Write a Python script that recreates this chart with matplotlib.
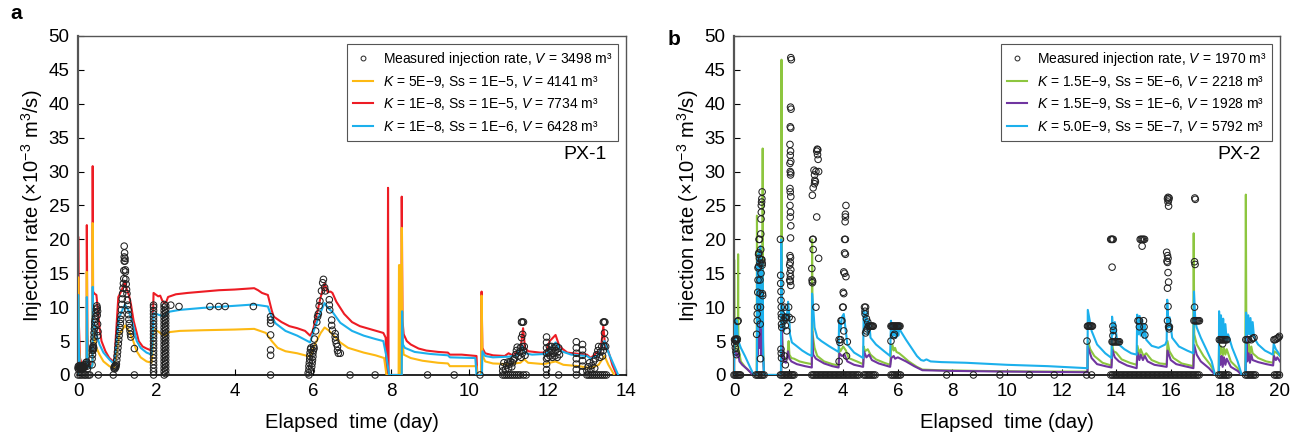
import numpy as np
import matplotlib
matplotlib.use("Agg")
import matplotlib.pyplot as plt
from matplotlib.lines import Line2D

plt.rcParams['font.family'] = ['Liberation Sans', 'DejaVu Sans']
plt.rcParams['mathtext.fontset'] = 'custom'
plt.rcParams['mathtext.rm'] = 'Liberation Sans'
plt.rcParams['mathtext.it'] = 'Liberation Sans:italic'

# ---------------- PX-1 (panel a) ----------------
px1_red = [(0, 0), (0.005, 20.4), (0.02, 8), (0.05, 2.5), (0.1, 1.5), (0.2, 1.5), (0.22, 2), (0.225, 22.1),
           (0.24, 6), (0.27, 2), (0.33, 1.5), (0.37, 2), (0.375, 30.8), (0.385, 12.3), (0.42, 12), (0.47, 11.8),
           (0.5, 10), (0.55, 7), (0.6, 5), (0.7, 3.5), (0.8, 2.5), (0.9, 2.0), (0.93, 2.2), (0.97, 6), (1.03, 11.5),
           (1.1, 12.3), (1.15, 13), (1.2, 13.8), (1.25, 12.5), (1.3, 11.8), (1.35, 10.5), (1.42, 8), (1.5, 6.2),
           (1.55, 5), (1.65, 4.2), (1.75, 3.9), (1.88, 3.6), (1.9, 5), (1.93, 12.1), (2.0, 11.8), (2.05, 11.6),
           (2.1, 11.7), (2.15, 11), (2.2, 10.6), (2.25, 10.7), (2.3, 11.5), (2.5, 11.9), (2.8, 12.1), (3.2, 12.3),
           (3.6, 12.5), (4.0, 12.6), (4.5, 12.8), (4.6, 12.5), (4.7, 12.1), (4.85, 11.8), (4.95, 9.5), (5.0, 8.6),
           (5.2, 7.8), (5.4, 7.2), (5.6, 6.9), (5.8, 6.5), (5.93, 5.8), (6.0, 6.5), (6.1, 9), (6.2, 11.5),
           (6.3, 13.5), (6.38, 12.2), (6.45, 12.3), (6.5, 12.1), (6.6, 10.8), (6.8, 9), (7.0, 7.8), (7.2, 7.2),
           (7.5, 6.7), (7.8, 6.2), (7.86, 5.5), (7.88, 0), (7.91, 0), (7.92, 27.6), (7.935, 0), (8.26, 0),
           (8.27, 26.3), (8.29, 8), (8.32, 6), (8.4, 5), (8.5, 4.5), (8.7, 3.9), (8.9, 3.6), (9.2, 3.4),
           (9.45, 3.3), (9.5, 3.0), (9.8, 3.0), (10.18, 2.8), (10.2, 0), (10.3, 0), (10.31, 12.3), (10.33, 4),
           (10.4, 3.2), (10.6, 2.9), (10.9, 2.8), (11.0, 3.2), (11.1, 2.9), (11.2, 3.3), (11.3, 3.6), (11.37, 6.9),
           (11.42, 4), (11.5, 3.5), (11.8, 3.3), (11.95, 3.3), (12.05, 5), (12.2, 5.9), (12.3, 4.2), (12.5, 3.3),
           (12.8, 3.1), (13.0, 3.0), (13.1, 2.5), (13.25, 3.3), (13.35, 3.5), (13.42, 7.2), (13.47, 4),
           (13.55, 3.5), (13.65, 1.5), (13.76, 0)]

px1_yellow = [(0, 0), (0.005, 14.4), (0.02, 5), (0.05, 1.5), (0.1, 1), (0.2, 1), (0.22, 1.5), (0.225, 15.2),
              (0.24, 4), (0.27, 1.2), (0.33, 1), (0.37, 1.5), (0.375, 22.4), (0.385, 6.5), (0.42, 5.5), (0.47, 4),
              (0.55, 3), (0.65, 2), (0.8, 1.3), (0.92, 1.0), (0.97, 2.5), (1.05, 6), (1.15, 6.8), (1.2, 7.3),
              (1.3, 6.5), (1.4, 5.2), (1.5, 3.5), (1.6, 2.6), (1.75, 2.0), (1.88, 1.8), (1.9, 3), (1.93, 6.7),
              (2.05, 6.4), (2.15, 6), (2.22, 5.8), (2.3, 6.3), (2.6, 6.5), (3.2, 6.6), (4.0, 6.7), (4.5, 6.8),
              (4.8, 6.2), (4.95, 5), (5.1, 4), (5.3, 3.5), (5.6, 3.2), (5.93, 2.7), (6.05, 4.5), (6.2, 6.2),
              (6.3, 7.0), (6.4, 6.6), (6.5, 6.0), (6.7, 4.8), (6.9, 4.0), (7.3, 3.3), (7.6, 2.9), (7.82, 2.5),
              (7.88, 0), (8.19, 0), (8.2, 16.2), (8.23, 16.2), (8.24, 0), (8.265, 0), (8.27, 21.7), (8.29, 5),
              (8.32, 3), (8.5, 2.5), (8.8, 2.1), (9.2, 1.8), (9.45, 1.7), (9.5, 1.3), (10.18, 1.3), (10.2, 0),
              (10.3, 0), (10.31, 11.7), (10.33, 3), (10.4, 2), (10.6, 1.7), (11.0, 1.6), (11.3, 1.8), (11.4, 2.3),
              (11.5, 1.8), (11.9, 1.6), (12.2, 2.0), (12.4, 1.5), (12.8, 1.3), (13.1, 1.0), (13.3, 1.5),
              (13.45, 2.8), (13.55, 1.5), (13.7, 0)]

px1_blue = [(0, 0), (0.005, 11.8), (0.02, 4), (0.05, 1.2), (0.1, 1), (0.2, 1), (0.22, 1.5), (0.225, 11.5),
            (0.24, 3), (0.27, 1.2), (0.33, 1), (0.37, 1.5), (0.375, 13), (0.385, 8), (0.42, 7.5), (0.47, 6),
            (0.55, 4.5), (0.65, 3.3), (0.8, 2.3), (0.92, 1.6), (0.97, 4), (1.05, 8.5), (1.15, 9.8), (1.2, 10.4),
            (1.3, 9.4), (1.4, 7.5), (1.5, 5), (1.6, 4), (1.75, 3.3), (1.88, 3.0), (1.9, 4.5), (1.93, 9.1),
            (2.05, 8.9), (2.15, 8.7), (2.22, 8.7), (2.3, 9.3), (2.6, 9.6), (3.2, 9.9), (4.0, 10.2), (4.5, 10.4),
            (4.85, 10.1), (4.95, 8.5), (5.05, 7.6), (5.3, 6.5), (5.6, 5.8), (5.93, 4.8), (6.05, 7), (6.2, 9.3),
            (6.3, 10.6), (6.4, 9.8), (6.5, 9.3), (6.7, 7.7), (7.0, 6.5), (7.3, 5.8), (7.6, 5.3), (7.8, 5.0),
            (7.87, 3), (7.95, 0), (8.27, 0), (8.28, 9.4), (8.3, 4.5), (8.35, 4), (8.6, 3.4), (9.0, 3.1),
            (9.45, 2.9), (9.5, 2.6), (10.15, 2.5), (10.18, 0), (10.32, 0), (10.33, 3.5), (10.4, 2.8), (10.6, 2.6),
            (11.0, 2.7), (11.2, 2.9), (11.35, 4.3), (11.42, 3.2), (11.6, 3.0), (11.95, 3.1), (12.2, 4.8),
            (12.35, 3.5), (12.6, 3.0), (13.0, 2.8), (13.1, 2.4), (13.3, 3.0), (13.45, 5.0), (13.55, 3.3),
            (13.65, 2), (13.8, 0)]

px1_meas = [
    # start
    (0.0, 1.0), (0.01, 1.3), (0.02, 0.8), (0.03, 1.2), (0.04, 1.0), (0.05, 1.4), (0.06, 1.1), (0.07, 0.9),
    (0.08, 1.2), (0.09, 1.0), (0.1, 1.3), (0.11, 1.1), (0.12, 0.9), (0.13, 1.2), (0.14, 1.0), (0.15, 1.4),
    (0.17, 1.2), (0.19, 1.5), (0.2, 1.8), (0.21, 1.6), (0.22, 1.9), (0.23, 1.3), (0.24, 0.9), (0.0, 0),
    (0.05, 0), (0.1, 0), (0.16, 0), (0.2, 0), (0.26, 0), (0.3, 0),
    # 0.4
    (0.36, 1.5), (0.36, 2.4), (0.37, 3.0), (0.37, 3.6), (0.38, 3.9), (0.38, 4.1), (0.39, 3.7), (0.39, 4.3),
    (0.4, 4.0), (0.4, 5.0), (0.41, 5.6), (0.41, 6.2), (0.42, 6.8), (0.43, 7.3), (0.43, 7.8), (0.44, 8.2),
    (0.45, 8.6), (0.46, 9.2), (0.47, 9.7), (0.48, 10.2), (0.49, 9.9), (0.5, 9.4), (0.49, 8.8), (0.5, 7.5),
    (0.51, 6.4), (0.5, 5.8), (0.52, 0),
    # 1.2 peak
    (0.92, 1.0), (0.93, 1.2), (0.94, 0.9), (0.95, 1.4), (0.96, 1.1), (0.97, 1.3), (0.98, 1.6), (0.99, 2.2),
    (1.0, 2.8), (1.01, 3.4), (1.02, 4.0), (1.03, 4.6), (1.04, 5.2), (1.05, 5.8), (1.06, 6.4), (1.07, 7.0),
    (1.08, 7.6), (1.09, 8.2), (1.1, 8.8), (1.11, 9.6), (1.12, 10.4), (1.13, 11.2), (1.14, 12.0),
    (1.15, 12.8), (1.16, 13.5), (1.17, 14.2), (1.17, 15.4), (1.18, 16.8), (1.18, 17.4), (1.19, 18.0),
    (1.18, 19.0), (1.2, 17.2), (1.2, 16.8), (1.21, 15.5), (1.21, 15.2), (1.22, 14.1), (1.23, 13.4),
    (1.24, 12.6), (1.25, 12.0), (1.26, 11.0), (1.27, 10.3), (1.28, 9.6), (1.29, 8.9), (1.3, 8.2),
    (1.31, 7.6), (1.32, 7.0), (1.33, 6.5), (1.34, 6.0), (1.35, 5.6), (1.44, 3.9), (0.9, 0), (1.44, 0),
    # 1.93 column
    (1.93, 0), (1.93, 0.5), (1.93, 1.0), (1.93, 1.5), (1.93, 2.0), (1.93, 2.5), (1.93, 3.0), (1.93, 3.5),
    (1.93, 4.0), (1.93, 4.5), (1.93, 5.0), (1.93, 5.5), (1.93, 6.0), (1.93, 6.5), (1.93, 7.0), (1.93, 7.5),
    (1.93, 8.0), (1.93, 8.5), (1.93, 9.0), (1.93, 9.5), (1.93, 10.0), (1.93, 10.3),
    # 2.2 column
    (2.2, 0), (2.2, 0.5), (2.2, 1.0), (2.2, 1.5), (2.2, 2.0), (2.2, 2.5), (2.2, 3.0), (2.2, 3.5),
    (2.2, 4.0), (2.2, 4.5), (2.2, 5.0), (2.2, 5.5), (2.2, 6.0), (2.2, 6.5), (2.2, 7.0), (2.2, 7.5),
    (2.2, 8.0), (2.2, 8.5), (2.2, 9.0), (2.2, 9.5), (2.2, 10.0), (2.2, 10.4),
    (2.24, 0.2), (2.24, 0.7), (2.24, 1.2), (2.24, 1.7), (2.24, 2.2), (2.24, 2.7), (2.24, 3.2), (2.24, 3.7),
    (2.24, 4.2), (2.24, 4.7), (2.24, 5.2), (2.24, 5.7), (2.24, 6.2), (2.24, 6.7), (2.24, 7.2), (2.24, 7.7),
    (2.24, 8.2), (2.24, 8.7), (2.24, 9.2), (2.24, 9.7), (2.24, 10.2),
    # plateau
    (2.37, 10.3), (2.58, 10.1), (3.37, 10.1), (3.59, 10.1), (3.76, 10.1), (4.48, 10.1),
    (4.92, 8.6), (4.92, 8.1), (4.92, 7.6), (4.92, 5.9), (4.92, 3.7), (4.92, 2.9), (4.92, 0),
    # 6.0 - 6.7
    (5.88, 0.3), (5.9, 0.8), (5.9, 1.3), (5.91, 1.8), (5.92, 2.3), (5.92, 2.8), (5.93, 3.3), (5.94, 3.8),
    (5.95, 4.0), (5.96, 0.6), (5.97, 1.2), (5.98, 1.7), (5.99, 2.2), (6.0, 2.7), (6.0, 3.2), (6.01, 3.6),
    (6.02, 4.2), (6.03, 3.9), (5.9, 0),
    (6.04, 5.3), (6.07, 6.5), (6.1, 7.8), (6.12, 8.6), (6.14, 9.0), (6.16, 10.2), (6.18, 10.9),
    (6.22, 12.4), (6.25, 13.6), (6.27, 14.1), (6.3, 12.9), (6.32, 12.4),
    (6.42, 11.1), (6.42, 10.3), (6.43, 9.6), (6.48, 8.1), (6.48, 7.3), (6.5, 6.6), (6.57, 6.1),
    (6.57, 5.6), (6.58, 5.1), (6.6, 4.6), (6.63, 4.2), (6.63, 3.6), (6.65, 3.2), (6.7, 3.2),
    (6.95, 0), (7.59, 0), (8.93, 0), (9.61, 0), (10.27, 0),
    # 11
    (10.85, 0), (10.9, 0), (10.95, 0), (11.0, 0), (11.05, 0), (11.1, 0), (11.15, 0), (11.2, 0),
    (11.25, 0), (11.3, 0), (11.38, 0), (11.45, 0),
    (10.85, 0.6), (10.85, 1.2), (10.88, 1.8), (10.92, 0.8), (10.95, 1.4), (10.98, 1.9), (11.0, 1.0),
    (11.02, 1.6), (11.05, 2.0), (11.08, 1.2), (11.1, 1.8), (11.12, 2.2),
    (11.15, 2.4), (11.18, 3.0), (11.2, 3.6), (11.22, 4.1), (11.25, 2.8), (11.28, 3.4), (11.3, 4.0),
    (11.32, 2.6), (11.35, 3.2), (11.35, 4.2), (11.38, 3.6), (11.4, 4.2), (11.42, 2.9),
    (11.33, 5.5), (11.36, 6.0), (11.33, 7.8), (11.35, 7.8), (11.38, 7.8),
    # 12
    (11.97, 0), (11.97, 0.8), (11.97, 1.6), (11.97, 2.4), (11.97, 3.2), (11.97, 4.0), (11.97, 4.8),
    (11.97, 5.6),
    (12.0, 2.6), (12.02, 3.4), (12.04, 4.2), (12.06, 2.8), (12.08, 3.6), (12.1, 4.2), (12.12, 2.6),
    (12.14, 3.2), (12.16, 4.0), (12.18, 2.8), (12.2, 3.6), (12.22, 4.2), (12.24, 2.6), (12.26, 3.4),
    (12.28, 4.0), (12.3, 3.0), (12.28, 0),
    # 13
    (12.73, 0), (12.73, 0.8), (12.73, 1.6), (12.73, 2.4), (12.73, 3.2), (12.73, 4.0), (12.73, 4.9),
    (12.89, 0.5), (12.89, 1.3), (12.89, 2.1), (12.89, 2.9), (12.89, 3.7), (12.89, 4.5),
    (13.0, 0), (13.0, 0.6), (13.03, 1.2), (13.05, 0), (13.07, 1.8), (13.1, 0), (13.1, 0.8), (13.13, 1.4),
    (13.15, 0), (13.17, 2.0), (13.2, 0), (13.2, 1.0), (13.22, 2.4), (13.25, 0), (13.25, 3.0),
    (13.28, 3.6), (13.3, 0), (13.3, 4.2), (13.33, 2.6), (13.35, 0), (13.35, 3.4), (13.38, 4.2),
    (13.4, 0), (13.4, 2.8), (13.42, 3.6), (13.44, 4.2), (13.45, 0), (13.46, 5.2), (13.45, 6.2),
    (13.42, 7.8), (13.44, 7.8), (13.46, 7.8), (13.48, 4.2), (13.5, 0)]

# ---------------- PX-2 (panel b) ----------------
px2_green = [(0, 0), (0.005, 17), (0.02, 5), (0.05, 3.5), (0.1, 3), (0.14, 3.2), (0.15, 17.8), (0.16, 4),
             (0.25, 2.0), (0.4, 1.2), (0.55, 0.6), (0.7, 0), (0.83, 0), (0.84, 23.5), (0.86, 12), (0.9, 18),
             (0.93, 8), (0.96, 12), (1.0, 6), (1.04, 10), (1.05, 33.4), (1.06, 5), (1.1, 0), (1.73, 0),
             (1.74, 46.5), (1.76, 6), (1.8, 3), (1.85, 2.5), (1.95, 2.3), (2.0, 5), (2.03, 3), (2.1, 2.5),
             (2.2, 2.4), (2.4, 2.0), (2.6, 1.8), (2.85, 1.6), (2.86, 20), (2.88, 6), (2.95, 4), (3.05, 2.8),
             (3.3, 2.0), (3.6, 1.6), (3.83, 1.4), (3.85, 4), (3.9, 3.5), (4.0, 4.2), (4.1, 3.6), (4.2, 2.5),
             (4.5, 2.0), (4.73, 1.6), (4.75, 4.2), (4.8, 3.5), (4.9, 3.8), (5.0, 3), (5.2, 2.3), (5.5, 1.8),
             (5.72, 1.5), (5.75, 3.5), (5.8, 4.5), (5.85, 3.6), (5.9, 4.0), (5.95, 3.4), (6.05, 3.2),
             (6.2, 2.7), (6.4, 2.0), (6.7, 1.2), (6.9, 0.8), (7.5, 0.7), (9, 0.6), (11, 0.5), (12.95, 0.5),
             (12.96, 5.0), (13.05, 3.8), (13.2, 2.8), (13.5, 1.8), (13.82, 1.4), (13.85, 4.5), (13.9, 3.5),
             (14.0, 3.3), (14.2, 2.3), (14.5, 1.8), (14.75, 1.5), (14.78, 4.3), (14.85, 3), (14.9, 3.8),
             (15.0, 2.8), (15.1, 3.2), (15.3, 2.2), (15.6, 1.7), (15.85, 1.6), (15.88, 5), (15.95, 3.5),
             (16.1, 2.5), (16.4, 1.7), (16.82, 1.3), (16.84, 20.9), (16.86, 6), (16.95, 4.5), (17.2, 2.8),
             (17.45, 1.5), (17.65, 0), (17.75, 0), (17.77, 4.5), (17.8, 3), (17.85, 4.2), (17.9, 2.8),
             (17.95, 4), (18.0, 3), (18.05, 3.8), (18.2, 2.0), (18.45, 1.0), (18.6, 0), (18.73, 0),
             (18.75, 26.6), (18.77, 4.5), (18.82, 3.2), (18.86, 4.5), (18.9, 3), (18.95, 4.2), (19.0, 3.2),
             (19.2, 2.5), (19.5, 2.0), (19.75, 1.8), (19.78, 3.5), (19.9, 3.2), (20, 2.8)]

px2_purple = [(0, 0), (0.005, 3), (0.05, 3.5), (0.1, 2.8), (0.15, 3.2), (0.2, 2), (0.3, 1.5), (0.5, 0.8),
              (0.7, 0), (0.84, 0), (0.85, 8), (0.88, 3), (0.9, 9), (0.93, 4), (0.96, 11), (1.0, 3), (1.03, 12),
              (1.06, 3), (1.1, 0), (1.73, 0), (1.74, 12.2), (1.77, 4), (1.82, 2.0), (1.9, 1.8), (1.98, 3.5),
              (2.02, 2.5), (2.1, 2.0), (2.3, 1.6), (2.6, 1.3), (2.85, 1.1), (2.86, 6.5), (2.9, 3), (3.0, 2.4),
              (3.3, 1.7), (3.6, 1.3), (3.83, 1.1), (3.86, 3.2), (3.95, 2.8), (4.05, 3.0), (4.15, 2.0),
              (4.4, 1.5), (4.73, 1.2), (4.76, 3.5), (4.85, 2.6), (4.95, 3.0), (5.05, 2.2), (5.3, 1.7),
              (5.72, 1.2), (5.76, 2.5), (5.85, 2.8), (5.9, 2.4), (6.0, 2.6), (6.1, 2.4), (6.3, 2.0), (6.6, 1.3),
              (6.9, 0.7), (8, 0.6), (10, 0.5), (12.95, 0.4), (12.96, 4.2), (13.1, 2.5), (13.3, 1.6),
              (13.6, 1.3), (13.83, 1.1), (13.86, 3.7), (13.95, 2.6), (14.1, 2.0), (14.4, 1.4), (14.75, 1.0),
              (14.78, 3.3), (14.85, 2.2), (14.9, 3), (14.98, 2.2), (15.05, 2.8), (15.15, 2.0), (15.4, 1.5),
              (15.85, 1.2), (15.88, 3.6), (16.0, 2.2), (16.2, 1.6), (16.5, 1.3), (16.83, 1.0), (16.86, 4.4),
              (16.95, 3), (17.1, 2.0), (17.4, 1.0), (17.63, 0), (17.76, 0), (17.78, 2.8), (17.82, 1.5),
              (17.86, 2.8), (17.9, 1.2), (17.95, 2.6), (18.0, 1.5), (18.05, 2.4), (18.2, 1.2), (18.45, 0.6),
              (18.6, 0), (18.74, 0), (18.77, 6), (18.8, 2), (18.85, 3.2), (18.9, 1.8), (18.95, 3), (19.0, 2.2),
              (19.2, 1.9), (19.5, 1.6), (19.75, 1.4), (19.78, 2.8), (19.85, 2.2), (19.9, 2.6), (20, 2.0)]

px2_blue = [(0, 0), (0.005, 5.5), (0.02, 8), (0.04, 5), (0.06, 8.2), (0.08, 5.5), (0.1, 8), (0.13, 6),
            (0.16, 5), (0.25, 4), (0.4, 2.8), (0.55, 1.5), (0.72, 0), (0.84, 0), (0.85, 17), (0.88, 6),
            (0.9, 18), (0.93, 8), (0.96, 19), (0.99, 7), (1.02, 17), (1.05, 16.5), (1.07, 3), (1.1, 0),
            (1.72, 0), (1.73, 20), (1.76, 7), (1.8, 10), (1.83, 6.5), (1.87, 9), (1.92, 8), (1.98, 10.8),
            (2.02, 9), (2.05, 6), (2.12, 4.8), (2.25, 4.4), (2.5, 3.6), (2.7, 3.1), (2.85, 2.8), (2.86, 12),
            (2.9, 10), (2.95, 7), (3.05, 5.5), (3.2, 5), (3.5, 4.2), (3.83, 3.4), (3.85, 8), (3.9, 6.5),
            (3.95, 8.5), (4.02, 9), (4.08, 7), (4.15, 4.5), (4.4, 3.3), (4.73, 2.5), (4.75, 9.5), (4.8, 7),
            (4.85, 9.3), (4.9, 6), (4.95, 8), (5.0, 5.5), (5.2, 4.5), (5.5, 3.5), (5.72, 2.8), (5.75, 8),
            (5.78, 5.5), (5.82, 7.5), (5.86, 5.8), (5.9, 7.5), (5.94, 5.5), (5.98, 7.2), (6.02, 5.8),
            (6.06, 7.5), (6.1, 6.5), (6.3, 5.2), (6.5, 4.0), (6.7, 2.8), (6.85, 2.2), (6.95, 2.1), (7.05, 2.3),
            (7.2, 2.0), (7.6, 1.9), (8.5, 1.8), (10, 1.5), (11.5, 1.3), (12.95, 1.0), (12.96, 9.6),
            (13.1, 6.5), (13.3, 4.5), (13.6, 3.2), (13.83, 2.5), (13.85, 8.6), (13.9, 6), (13.95, 7.8),
            (14.02, 5.5), (14.1, 4.5), (14.3, 3.8), (14.55, 3.2), (14.75, 3.0), (14.77, 8.9), (14.82, 6),
            (14.86, 8.7), (14.9, 5.8), (14.95, 8.2), (15.0, 5.5), (15.05, 7.5), (15.1, 5.2), (15.3, 4.3),
            (15.55, 4.0), (15.8, 4.5), (15.85, 5), (15.87, 11.1), (15.92, 7), (15.96, 8.5), (16.05, 5.5),
            (16.3, 4.2), (16.6, 3.6), (16.83, 3.2), (16.85, 12.3), (16.9, 8), (16.95, 7), (17.1, 5.5),
            (17.3, 3.8), (17.5, 2), (17.62, 0), (17.76, 0), (17.77, 9.4), (17.8, 5.5), (17.84, 8.8),
            (17.88, 5.5), (17.92, 8.3), (17.96, 5.2), (18.0, 7.5), (18.05, 5.0), (18.1, 6.0), (18.25, 4.0),
            (18.45, 2), (18.6, 0), (18.74, 0), (18.76, 9.2), (18.8, 6), (18.84, 8.8), (18.88, 6),
            (18.92, 8.4), (18.96, 5.8), (19.0, 7.8), (19.05, 5.5), (19.2, 4.5), (19.45, 3.6), (19.74, 3.0),
            (19.77, 4.6), (19.85, 3.8), (19.92, 3.4), (20, 2.9)]

px2_meas = [
    (0.02, 5.2), (0.04, 5.1), (0.06, 5.3), (0.08, 5.0), (0.1, 5.2), (0.12, 5.3), (0.03, 4.6), (0.05, 4.0),
    (0.07, 3.4), (0.09, 3.0), (0.13, 7.9), (0.15, 8.0),
    (0.0, 0), (0.04, 0), (0.08, 0), (0.12, 0), (0.16, 0), (0.2, 0), (0.24, 0),
    # ~1
    (0.83, 6), (0.85, 8), (0.85, 9), (0.86, 10), (0.87, 12.2), (0.88, 14), (0.88, 15.8), (0.9, 16),
    (0.9, 17.8), (0.91, 18), (0.92, 20), (0.93, 20), (0.93, 17.2), (0.95, 16.5), (0.95, 14), (0.96, 12),
    (0.97, 10), (0.98, 18.5), (0.98, 20.8), (0.99, 23), (1.0, 24), (1.0, 25), (1.01, 25.5), (1.02, 26),
    (1.03, 27), (1.02, 17), (1.03, 16.5), (1.03, 16.2), (1.04, 12), (1.05, 11.7), (0.96, 7.5), (0.97, 2.4),
    (1.0, 17), (0.99, 15),
    (0.8, 0), (0.85, 0), (0.9, 0), (0.95, 0), (1.0, 0), (1.05, 0), (1.1, 0),
    # ~2
    (1.7, 20), (1.71, 14.7), (1.71, 13.5), (1.72, 12.3), (1.72, 11), (1.73, 10), (1.73, 9), (1.74, 8.5),
    (1.74, 7.5), (1.75, 7), (1.72, 3.8), (1.73, 3.2), (1.74, 2.5),
    (1.85, 10), (1.87, 8.5), (1.9, 8.4), (1.92, 8.5), (1.83, 8), (1.88, 7.3), (1.93, 6.5), (1.85, 2.8),
    (1.88, 1.5),
    (2.08, 46.8), (2.1, 46.5), (2.07, 39.5), (2.09, 39.2), (2.06, 36.6), (2.08, 36.4), (2.05, 34),
    (2.07, 33), (2.06, 32.4), (2.08, 31.5), (2.05, 31.2), (2.06, 30), (2.08, 29.8), (2.07, 29.5),
    (2.05, 27.5), (2.06, 27), (2.08, 26.3), (2.05, 25), (2.07, 24), (2.06, 23.3), (2.08, 22), (2.07, 20.2),
    (2.05, 17.6), (2.07, 17.3), (2.06, 16.6), (2.04, 16.2), (2.08, 15.5), (2.05, 15), (2.07, 14.5),
    (2.04, 14), (2.06, 13.8), (2.08, 13.2), (2.0, 10), (2.12, 8.2), (2.02, 8.5),
    (1.7, 0), (1.75, 0), (1.8, 0), (1.85, 0), (1.9, 0), (1.95, 0), (2.0, 0), (2.05, 0), (2.1, 0),
    (2.15, 0), (2.2, 0),
    # ~3
    (3.05, 33.3), (3.07, 33.2), (3.03, 33), (3.06, 32.5), (3.08, 31.8), (2.93, 30.2), (3.0, 30),
    (3.1, 30), (2.95, 29.5), (2.96, 28.7), (2.98, 28.5), (2.95, 28.2), (2.9, 27.6), (2.87, 26.5),
    (3.03, 23.3), (2.88, 20), (2.9, 20), (2.9, 18.5), (3.1, 17.2), (2.85, 15.7), (2.86, 14), (2.88, 13.8),
    (2.87, 13.6), (3.0, 10),
    (2.85, 0), (2.9, 0), (2.96, 0), (3.02, 0), (3.08, 0), (3.14, 0), (3.2, 0), (3.26, 0), (3.32, 0),
    (3.38, 0), (3.44, 0), (3.5, 0), (3.56, 0), (3.62, 0), (3.68, 0), (3.74, 0), (3.8, 0), (3.86, 0),
    (3.92, 0), (3.98, 0), (4.04, 0), (4.1, 0), (4.16, 0), (4.22, 0), (4.28, 0), (4.34, 0), (4.4, 0),
    (4.46, 0), (4.52, 0), (4.58, 0),
    # ~4
    (4.1, 25), (4.08, 23.7), (4.08, 23.3), (4.07, 22.6), (4.05, 20), (4.08, 20), (4.05, 18), (4.08, 17.8),
    (4.02, 15.2), (4.05, 15), (4.1, 14.5), (4.0, 12.2), (4.02, 12), (3.98, 10), (4.0, 10), (3.92, 8),
    (3.95, 8), (4.02, 6.5), (3.85, 5.2), (3.9, 5.2), (3.88, 4.8), (3.85, 2), (4.12, 2.8), (4.15, 4.9),
    # ~5
    (4.78, 10), (4.82, 10), (4.8, 9.4), (4.8, 9), (4.85, 8.3), (4.9, 7.8), (4.92, 7.2), (4.95, 7.2),
    (4.98, 7.2), (5.01, 7.2), (5.04, 7.2), (5.07, 7.2), (5.1, 7.2), (4.88, 6.8), (4.85, 6.5), (4.82, 6.2),
    (4.75, 0), (4.81, 0), (4.87, 0), (4.93, 0), (4.99, 0), (5.05, 0), (5.11, 0), (5.17, 0),
    # ~6
    (5.75, 7.2), (5.78, 7.2), (5.81, 7.2), (5.84, 7.2), (5.87, 7.2), (5.9, 7.2), (5.93, 7.2), (5.96, 7.2),
    (5.99, 7.2), (6.02, 7.2), (6.05, 7.2), (6.08, 7.2), (5.88, 6), (5.85, 5.8), (5.75, 5),
    (5.75, 0), (5.81, 0), (5.87, 0), (5.93, 0), (5.99, 0), (6.05, 0), (6.1, 0),
    (7.79, 0), (8.77, 0), (9.74, 0), (10.82, 0), (11.73, 0), (12.92, 0), (13.1, 0),
    # ~13
    (12.95, 7.2), (12.98, 7.2), (13.01, 7.2), (13.04, 7.2), (13.07, 7.2), (13.1, 7.2), (13.13, 7.2),
    (12.93, 5),
    # ~14
    (13.8, 20), (13.83, 20), (13.86, 20), (13.89, 20), (13.85, 15.9), (13.88, 7.2), (13.9, 6.6),
    (13.88, 5.8), (13.85, 4.9), (13.88, 4.9), (13.92, 4.9), (13.96, 4.9), (14.0, 4.9), (14.04, 4.9),
    (14.08, 4.9), (14.12, 4.9),
    # ~15
    (14.88, 20), (14.92, 20), (14.96, 20), (15.0, 20), (15.04, 20), (14.95, 19), (14.8, 8), (14.85, 8),
    (15.0, 8), (14.85, 7.1), (15.02, 7.1), (15.05, 5.9),
    # ~16
    (15.88, 26.0), (15.9, 26.2), (15.92, 25.8), (15.94, 26.1), (15.9, 25.5), (15.92, 24.9), (15.85, 18.1),
    (15.88, 17.6), (15.9, 17.2), (15.86, 16.8), (15.88, 16.6), (15.9, 15.1), (15.92, 13.7), (15.88, 12.8),
    (15.9, 10.1), (15.88, 8.0), (15.92, 7.1), (15.95, 7.1), (15.94, 6.8),
    # ~17
    (16.88, 26.1), (16.9, 25.9), (16.87, 16.7), (16.89, 16.3), (16.87, 10), (16.85, 8), (16.89, 8),
    (16.93, 8), (16.97, 8), (17.01, 8), (17.05, 8),
    # ~18-20
    (17.78, 5.2), (17.82, 5.2), (17.86, 5.2), (17.9, 5.2), (17.94, 5.2), (17.98, 5.2), (18.02, 5.2),
    (18.06, 5.2), (17.9, 4.6),
    (18.75, 5.2), (18.8, 5.2), (18.85, 5.2), (18.95, 5.2), (19.0, 5.4), (19.05, 5.5),
    (19.78, 5.2), (19.82, 5.2), (19.86, 5.3), (19.9, 5.4), (19.94, 5.5), (19.98, 5.7),
    # zeros 13.8-20
    (13.8, 0), (13.86, 0), (13.92, 0), (13.98, 0), (14.04, 0), (14.1, 0), (14.16, 0), (14.22, 0),
    (14.28, 0), (14.34, 0), (14.4, 0), (14.46, 0), (14.52, 0), (14.58, 0), (14.64, 0), (14.7, 0),
    (14.76, 0), (14.82, 0), (14.88, 0), (14.94, 0), (15.0, 0), (15.06, 0), (15.12, 0), (15.18, 0),
    (15.24, 0), (15.3, 0), (15.36, 0), (15.42, 0), (15.48, 0), (15.54, 0), (15.6, 0), (15.66, 0),
    (15.72, 0), (15.78, 0), (15.84, 0), (15.9, 0), (15.96, 0), (16.02, 0), (16.08, 0), (16.14, 0),
    (16.2, 0), (16.26, 0), (16.32, 0), (16.38, 0), (16.44, 0), (16.5, 0), (16.56, 0), (16.62, 0),
    (16.68, 0), (16.74, 0), (16.8, 0), (16.86, 0), (16.92, 0), (16.98, 0), (17.04, 0),
    (17.76, 0), (17.82, 0), (17.88, 0), (17.94, 0), (18.0, 0), (18.06, 0), (18.12, 0),
    (18.74, 0), (18.8, 0), (18.86, 0), (18.92, 0), (18.98, 0), (19.04, 0), (19.1, 0),
    (19.8, 0), (19.86, 0), (19.92, 0), (19.98, 0)]

px1_labels = ['Measured injection rate, $V$ = 3498 m\u00b3',
              '$K$ = 5E\u22129, Ss = 1E\u22125, $V$ = 4141 m\u00b3',
              '$K$ = 1E\u22128, Ss = 1E\u22125, $V$ = 7734 m\u00b3',
              '$K$ = 1E\u22128, Ss = 1E\u22126, $V$ = 6428 m\u00b3']
px2_labels = ['Measured injection rate, $V$ = 1970 m\u00b3',
              '$K$ = 1.5E\u22129, Ss = 5E\u22126, $V$ = 2218 m\u00b3',
              '$K$ = 1.5E\u22129, Ss = 1E\u22126, $V$ = 1928 m\u00b3',
              '$K$ = 5.0E\u22129, Ss = 5E\u22127, $V$ = 5792 m\u00b3']

RED, YELLOW, BLUE = '#ED1C24', '#FDB913', '#1CB0EC'
GREEN, PURPLE = '#8DC63F', '#7035A0'

fig = plt.figure(figsize=(12.98, 4.33), dpi=100)
ax1 = fig.add_axes([0.0601, 0.134, 0.4222, 0.783])
ax2 = fig.add_axes([0.5655, 0.134, 0.4206, 0.783])


def draw_panel(ax, series, colors, order, labels, meas, xmax, name):
    for i in order:
        d = np.array(series[i])
        ax.plot(d[:, 0], d[:, 1], color=colors[i], lw=1.5, zorder=2 + order.index(i))
    m = np.array(meas)
    ax.scatter(m[:, 0], m[:, 1], s=22, facecolors='none', edgecolors='#222222', linewidths=0.75,
               zorder=10, clip_on=False)
    handles = [Line2D([], [], ls='none', marker='o', mfc='none', mec='#222222', ms=3.5, mew=0.7)]
    handles += [Line2D([], [], color=c, lw=1.5) for c in colors]
    leg = ax.legend(handles, labels, loc='upper right', fontsize=10, frameon=True, fancybox=False,
                    edgecolor='#555555', framealpha=1, handlelength=1.4, handletextpad=0.7,
                    labelspacing=0.45, borderpad=0.45, borderaxespad=0.55)
    leg.get_frame().set_linewidth(0.8)
    ax.text(0.965, 0.65, name, transform=ax.transAxes, ha='right', va='center', fontsize=14)
    ax.set_xlim(0, xmax)
    ax.set_ylim(0, 50)
    ax.set_xticks(np.arange(0, xmax + 1, 2))
    ax.set_yticks(np.arange(0, 51, 5))
    ax.tick_params(direction='in', length=4, width=0.8, labelsize=13.5, pad=6)
    for s in ['top', 'right', 'left']:
        ax.spines[s].set_color('#555555')
        ax.spines[s].set_linewidth(1.0)
    ax.spines['left'].set_linewidth(1.6)
    ax.spines['bottom'].set_color('black')
    ax.spines['bottom'].set_linewidth(1.2)
    ax.set_xlabel('Elapsed  time (day)', fontsize=14.5, labelpad=9)
    ax.set_ylabel('Injection rate (\u00d710$^{-3}$ m$^3$/s)', fontsize=14.5, labelpad=3)


draw_panel(ax1, [px1_yellow, px1_red, px1_blue], [YELLOW, RED, BLUE], [1, 0, 2],
           px1_labels, px1_meas, 14, 'PX-1')
draw_panel(ax2, [px2_green, px2_purple, px2_blue], [GREEN, PURPLE, BLUE], [0, 1, 2],
           px2_labels, px2_meas, 20, 'PX-2')

fig.text(0.008, 0.955, 'a', fontsize=15, fontweight='bold')
fig.text(0.514, 0.895, 'b', fontsize=15, fontweight='bold')

fig.savefig('out.png', dpi=100)
